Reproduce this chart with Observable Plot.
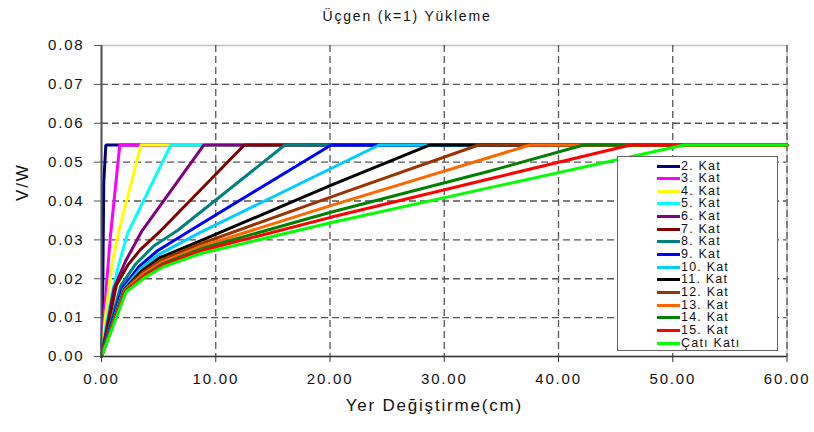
<!DOCTYPE html>
<html><head><meta charset="utf-8">
<script src="https://cdn.jsdelivr.net/npm/d3@7"></script>
<script src="https://cdn.jsdelivr.net/npm/@observablehq/plot@0.6"></script>
<style>
body{margin:0;background:#fff;font-family:"Liberation Sans",Arial,sans-serif;color:#111;}
#wrap{position:relative;width:814px;height:432px;overflow:hidden;}
#title{position:absolute;left:0;top:0;width:814px;height:32px;line-height:32px;text-align:center;font-size:14px;letter-spacing:1.8px;}
#chart{position:absolute;left:0;top:32px;}
#legend{position:absolute;left:617px;top:156px;width:161px;height:195px;background:#fff;border:1px solid #666;box-sizing:border-box;}
.row{position:absolute;left:0;width:150px;height:13px;}
.sw{position:absolute;left:39px;top:5px;width:23px;height:3px;}
.lb{position:absolute;left:63px;top:0;font-size:12.5px;line-height:13px;letter-spacing:1.2px;white-space:nowrap;}
</style></head>
<body>
<div id="wrap">
  <div id="title">Üçgen (k=1) Yükleme</div>
  <div id="chart"></div>
  <div id="legend"></div>
</div>
<script>
// Series names
const seriesNames = ["2. Kat","3. Kat","4. Kat","5. Kat","6. Kat","7. Kat","8. Kat","9. Kat","10. Kat","11. Kat","12. Kat","13. Kat","14. Kat","15. Kat","Çatı Katı"];
// Displacement (cm) and V/W for each series
const kat2_x = [0, 0.10, 0.15, 0.20, 0.38, 60];
const kat2_v = [0, 0.012, 0.030, 0.045, 0.0544, 0.0544];
const kat3_x = [0, 0.20, 0.45, 0.78, 1.60, 60];
const kat3_v = [0, 0.009, 0.019, 0.031, 0.0544, 0.0544];
const kat4_x = [0, 0.30, 0.65, 1.00, 1.45, 3.45, 60];
const kat4_v = [0, 0.009, 0.018, 0.025, 0.0315, 0.0544, 0.0544];
const kat5_x = [0, 0.40, 0.90, 1.50, 2.30, 6.07, 60];
const kat5_v = [0, 0.008, 0.016, 0.0235, 0.0318, 0.0544, 0.0544];
const kat6_x = [0, 1.10, 2.10, 3.50, 8.95, 60];
const kat6_v = [0, 0.0176, 0.0245, 0.0321, 0.0544, 0.0544];
const kat7_x = [0, 1.30, 2.30, 3.40, 5.20, 12.5, 60];
const kat7_v = [0, 0.0183, 0.0235, 0.0275, 0.0324, 0.0544, 0.0544];
const kat8_x = [0, 1.70, 3.00, 4.60, 6.65, 16.05, 60];
const kat8_v = [0, 0.0183, 0.0238, 0.0285, 0.0324, 0.0544, 0.0544];
const kat9_x = [0, 1.85, 3.30, 4.90, 8.70, 20.1, 60];
const kat9_v = [0, 0.0177, 0.0232, 0.0272, 0.0341, 0.0544, 0.0544];
const kat10_x = [0, 1.95, 3.40, 5.00, 8.70, 24.3, 60];
const kat10_v = [0, 0.0174, 0.0226, 0.0262, 0.0320, 0.0544, 0.0544];
const kat11_x = [0, 2.00, 3.50, 5.10, 8.70, 20.06, 28.7, 60];
const kat11_v = [0, 0.0172, 0.0220, 0.0254, 0.0298, 0.0440, 0.0544, 0.0544];
const kat12_x = [0, 2.00, 3.60, 5.20, 8.70, 20.06, 33.0, 60];
const kat12_v = [0, 0.0171, 0.0216, 0.0248, 0.0290, 0.0410, 0.0544, 0.0544];
const kat13_x = [0, 2.05, 3.70, 5.30, 8.70, 20.06, 37.5, 60];
const kat13_v = [0, 0.0170, 0.0213, 0.0243, 0.0283, 0.0388, 0.0544, 0.0544];
const kat14_x = [0, 2.10, 3.80, 5.40, 8.70, 20.06, 34.1, 42.2, 60];
const kat14_v = [0, 0.0169, 0.0210, 0.0239, 0.0277, 0.0371, 0.0478, 0.0544, 0.0544];
const kat15_x = [0, 2.10, 3.80, 5.40, 8.70, 20.06, 34.1, 46.3, 60];
const kat15_v = [0, 0.0168, 0.0208, 0.0236, 0.0272, 0.0358, 0.0458, 0.0544, 0.0544];
const cati_x = [0, 2.15, 3.90, 5.50, 8.70, 20.06, 34.1, 51.0, 60];
const cati_v = [0, 0.0166, 0.0205, 0.0232, 0.0265, 0.0344, 0.0435, 0.0544, 0.0544];
// Tick values
const xTicks = [0, 10, 20, 30, 40, 50, 60];
const yTicks = [0, 0.01, 0.02, 0.03, 0.04, 0.05, 0.06, 0.07, 0.08];

const seriesColors = ["#000080","#FF00FF","#FFFF00","#00FFFF","#800080","#800000","#008080","#0000FF","#00CCFF","#000000","#993300","#FF6600","#008000","#FF0000","#00FF00"];

const xs = [kat2_x,kat3_x,kat4_x,kat5_x,kat6_x,kat7_x,kat8_x,kat9_x,kat10_x,kat11_x,kat12_x,kat13_x,kat14_x,kat15_x,cati_x];
const vs = [kat2_v,kat3_v,kat4_v,kat5_v,kat6_v,kat7_v,kat8_v,kat9_v,kat10_v,kat11_v,kat12_v,kat13_v,kat14_v,kat15_v,cati_v];
const rows = [];
seriesNames.forEach((s, i) => xs[i].forEach((x, j) => rows.push({s, x, v: vs[i][j]})));

const svg = Plot.plot({
  width: 814, height: 400,
  marginTop: 13, marginBottom: 76, marginLeft: 101, marginRight: 27.5,
  style: {fontFamily: '"Liberation Sans", Arial, sans-serif', color: "#111", background: "#fff"},
  x: {domain: [0, 60]},
  y: {domain: [0, 0.08]},
  color: {domain: seriesNames, range: seriesColors},
  marks: [
    Plot.frame({stroke: "#c0c0c0", strokeWidth: 1.5}),
    Plot.ruleX(xTicks.filter(d => d > 0), {stroke: "#555", strokeWidth: 1.3, strokeDasharray: "7,4"}),
    Plot.ruleY(yTicks.filter(d => d > 0 && d < 0.08), {stroke: "#555", strokeWidth: 1.3, strokeDasharray: "7,4"}),
    Plot.line(rows, {x: "x", y: "v", z: "s", stroke: "s", strokeWidth: 3, strokeLinejoin: "miter"}),
    Plot.ruleX([0], {stroke: "#555", strokeWidth: 2}),
    Plot.ruleY([0], {stroke: "#333", strokeWidth: 1.5}),
    Plot.axisY({ticks: yTicks, tickFormat: d3.format(".2f"), tickSize: 7, tickPadding: 10, fontSize: 15, label: null, stroke: "#555"}),
    Plot.axisX({ticks: xTicks, tickFormat: d3.format(".2f"), tickSize: 6, tickPadding: 11, fontSize: 15, label: null, stroke: "#333"}),
    Plot.text(["V/W"], {frameAnchor: "left", dx: -79, rotate: -90, fontSize: 17, fill: "#111"}),
    Plot.text(["Yer Değiştirme(cm)"], {frameAnchor: "bottom", dy: 54, dx: -10, fontSize: 17, fill: "#111"})
  ]
});
d3.select(svg).selectAll("text").style("letter-spacing", "1.8px");
document.getElementById("chart").appendChild(svg);

const legend = document.getElementById("legend");
seriesNames.forEach((s, i) => {
  const row = document.createElement("div");
  row.className = "row";
  row.style.top = (2.5 + i * 12.65) + "px";
  row.innerHTML = `<div class="sw" style="background:${seriesColors[i]}"></div><div class="lb">${s}</div>`;
  legend.appendChild(row);
});
</script>
</body></html>
